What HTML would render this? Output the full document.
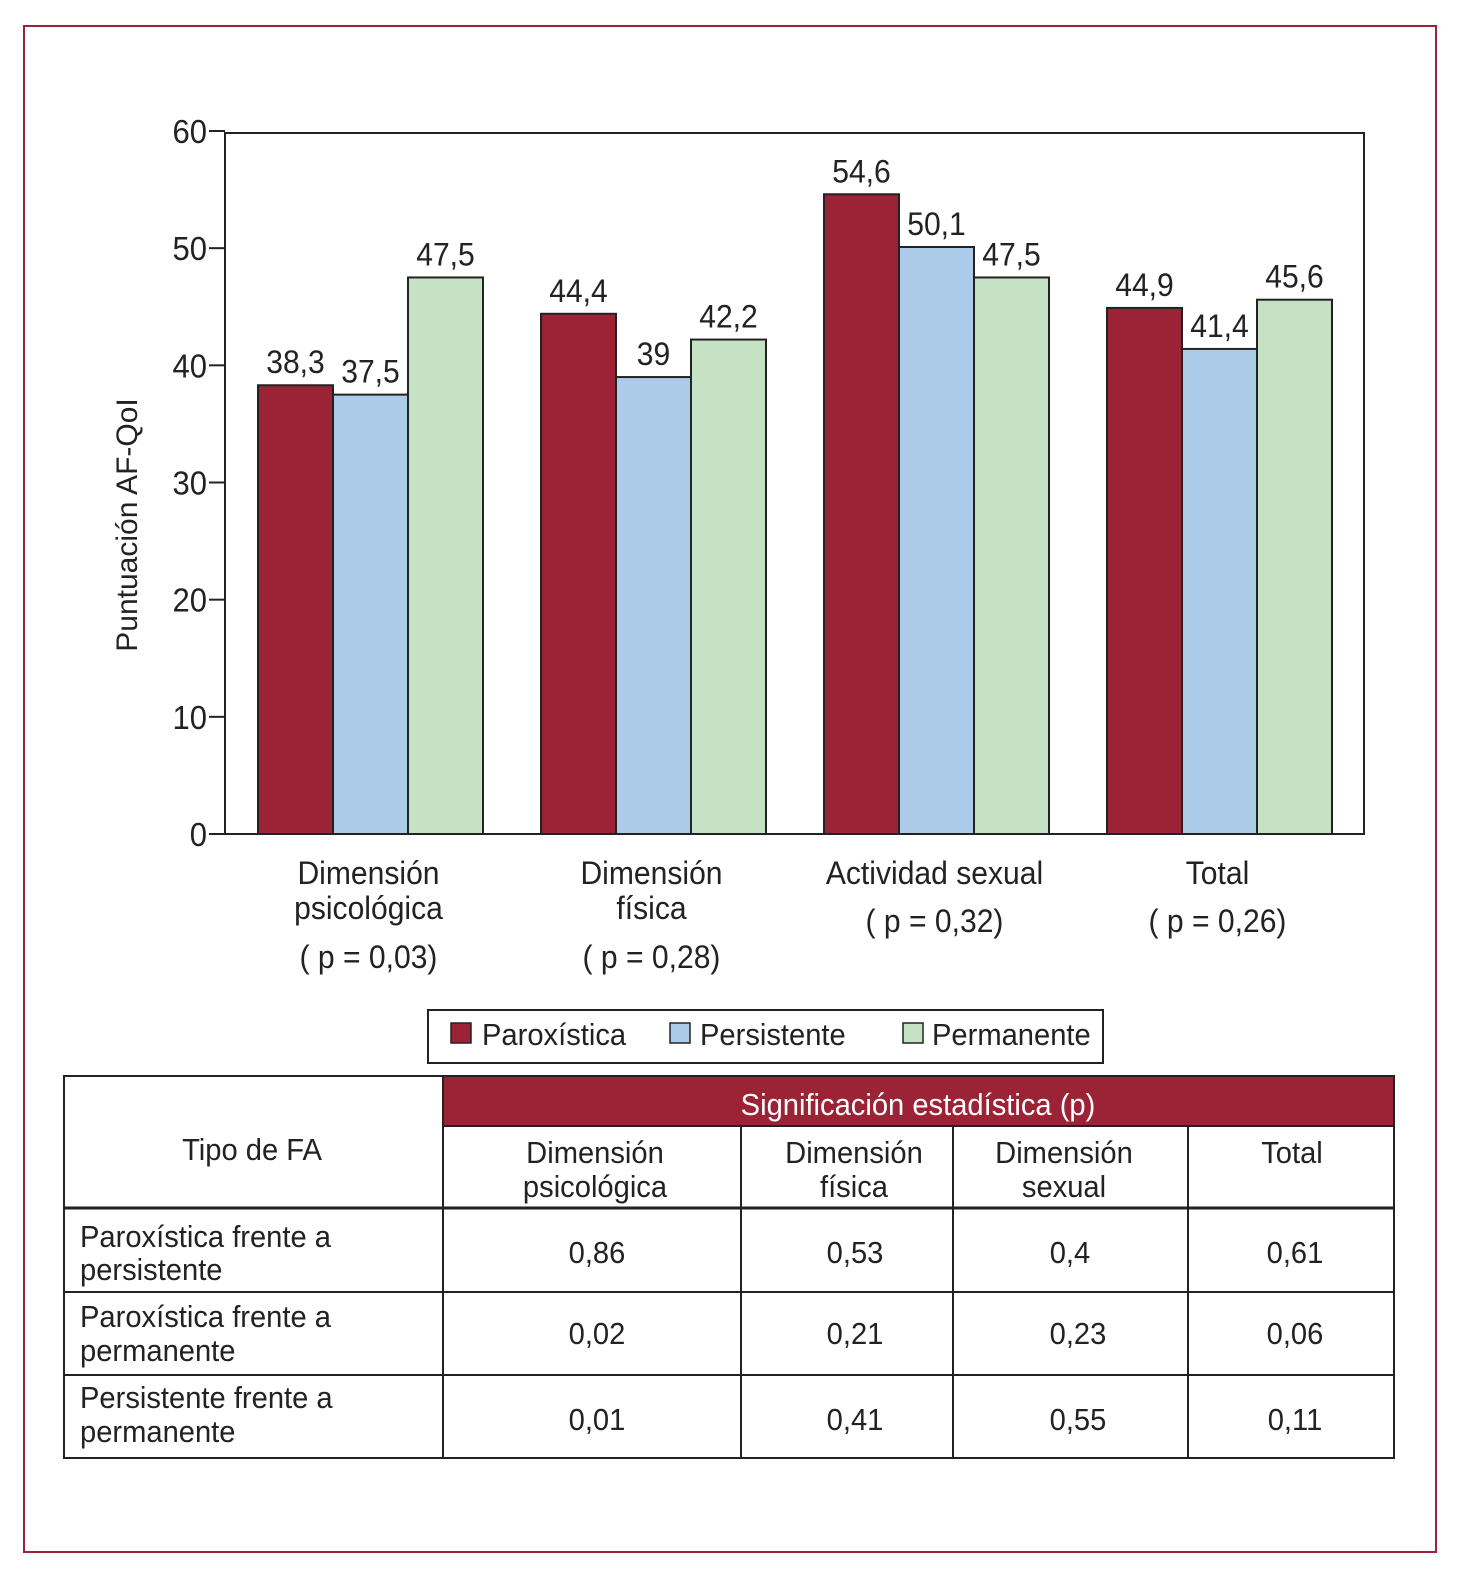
<!DOCTYPE html>
<html><head><meta charset="utf-8"><style>
html,body{margin:0;padding:0;background:#fff}
svg{display:block}
text{font-family:"Liberation Sans Narrow","Liberation Sans",sans-serif;fill:#222}
</style></head><body>
<svg id="c" width="1462" height="1575" viewBox="0 0 1462 1575" xmlns="http://www.w3.org/2000/svg">
<rect x="24" y="26" width="1412" height="1526" fill="none" stroke="#9b2335" stroke-width="2"/>
<g id="chart"></g>
<text class="nos" transform="translate(137,525) rotate(-90)" text-anchor="middle" font-size="30">Puntuación AF-QoI</text>
<g>
<rect x="428" y="1010" width="675" height="53" fill="#fff" stroke="#222" stroke-width="2"/>
<rect x="451" y="1023" width="20" height="20" fill="#9b2335" stroke="#222" stroke-width="1.5"/>
<text x="482" y="1045" font-size="31">Paroxística</text>
<rect x="670" y="1023" width="20" height="20" fill="#abcbe9" stroke="#222" stroke-width="1.5"/>
<text x="700" y="1045" font-size="31">Persistente</text>
<rect x="903" y="1023" width="20" height="20" fill="#c5e3c4" stroke="#222" stroke-width="1.5"/>
<text x="932" y="1045" font-size="31">Permanente</text>
</g>
<g font-size="31">
<rect x="443" y="1076" width="951" height="50" fill="#9b2335"/>
<text x="918" y="1115" text-anchor="middle" style="fill:#fff">Significación estadística (p)</text>
<rect x="64" y="1076" width="1330" height="382" fill="none" stroke="#222" stroke-width="2"/>
<line x1="443" y1="1076" x2="443" y2="1458" stroke="#222" stroke-width="2"/>
<line x1="741" y1="1126" x2="741" y2="1458" stroke="#222" stroke-width="2"/>
<line x1="953" y1="1126" x2="953" y2="1458" stroke="#222" stroke-width="2"/>
<line x1="1188" y1="1126" x2="1188" y2="1458" stroke="#222" stroke-width="2"/>
<line x1="443" y1="1126" x2="1394" y2="1126" stroke="#222" stroke-width="2"/>
<line x1="64" y1="1208" x2="1394" y2="1208" stroke="#222" stroke-width="3"/>
<line x1="64" y1="1292" x2="1394" y2="1292" stroke="#222" stroke-width="2"/>
<line x1="64" y1="1375" x2="1394" y2="1375" stroke="#222" stroke-width="2"/>
<text x="252" y="1160" text-anchor="middle">Tipo de FA</text>
<text x="595" y="1163" text-anchor="middle">Dimensión</text>
<text x="595" y="1197" text-anchor="middle">psicológica</text>
<text x="854" y="1163" text-anchor="middle">Dimensión</text>
<text x="854" y="1197" text-anchor="middle">física</text>
<text x="1064" y="1163" text-anchor="middle">Dimensión</text>
<text x="1064" y="1197" text-anchor="middle">sexual</text>
<text x="1292" y="1163" text-anchor="middle">Total</text>
<text x="80" y="1247">Paroxística frente a</text><text x="80" y="1280">persistente</text>
<text x="80" y="1327">Paroxística frente a</text><text x="80" y="1361">permanente</text>
<text x="80" y="1408">Persistente frente a</text><text x="80" y="1442">permanente</text>
<g text-anchor="middle">
<text x="597" y="1263">0,86</text><text x="855" y="1263">0,53</text><text x="1070" y="1263">0,4</text><text x="1295" y="1263">0,61</text>
<text x="597" y="1344">0,02</text><text x="855" y="1344">0,21</text><text x="1078" y="1344">0,23</text><text x="1295" y="1344">0,06</text>
<text x="597" y="1430">0,01</text><text x="855" y="1430">0,41</text><text x="1078" y="1430">0,55</text><text x="1295" y="1430">0,11</text>
</g>
</g>
</svg>
<script>
const categories = [["Dimensión","psicológica","( p = 0,03)"],["Dimensión","física","( p = 0,28)"],["Actividad sexual","( p = 0,32)"],["Total","( p = 0,26)"]];
const paroxistica = [38.3, 44.4, 54.6, 44.9];
const persistente = [37.5, 39, 50.1, 41.4];
const permanente = [47.5, 42.2, 47.5, 45.6];
const yTicks = [0,10,20,30,40,50,60];
const seriesNames = ["paroxistica","persistente","permanente"];

const NS="http://www.w3.org/2000/svg";
const g=document.getElementById('chart');
const L=225,R=1364,T=133,B=834;
const y=v=>B-(v/60)*(B-T+2);
const bw=75;
const x=(i,s)=>L+33+i*283+s*bw;
function mk(tag,at){const e=document.createElementNS(NS,tag);for(const k in at)e.setAttribute(k,at[k]);g.appendChild(e);return e;}
const frame=mk('rect',{x:L,y:T,width:R-L,height:B-T,fill:'none',stroke:'#222','stroke-width':2});


yTicks.forEach(t=>{
  const ln=mk('line',{x1:L-16,x2:L,y1:y(t),y2:y(t),stroke:'#222','stroke-width':2});
  
  
  const tx=mk('text',{x:L-18,y:y(t)+12,'text-anchor':'end','font-size':33});
  tx.textContent=t;
  
  
});
const colors=["#9b2335","#abcbe9","#c5e3c4"];
[paroxistica,persistente,permanente].forEach((arr,s)=>{
  arr.forEach((v,i)=>{
    const r=mk('rect',{x:x(i,s),y:y(v),width:bw,height:B-y(v),fill:colors[s],stroke:'#222','stroke-width':2});
    
    
    const t=mk('text',{x:x(i,s)+bw/2,y:y(v)-12,'text-anchor':'middle','font-size':32});
    t.textContent=String(v).replace('.',',');
    
    
  });
});
categories.forEach((lines,i)=>{
  const cx=x(i,1)+bw/2-2;
  lines.forEach((s,j)=>{
    const isP=s.startsWith('(');
    const yy = isP ? (lines.length===3?968:932) : 884+j*35;
    const t=mk('text',{x:cx,y:yy,'text-anchor':'middle','font-size':32});
    t.textContent=s;
    
    
  });
});
document.querySelectorAll('text:not(.nos)').forEach(t=>{
  const tx=parseFloat(t.getAttribute('x'))||0;
  t.setAttribute('transform','translate('+tx+',0) scale(0.94,1) translate('+(-tx)+',0)');
});
</script>
</body></html>
